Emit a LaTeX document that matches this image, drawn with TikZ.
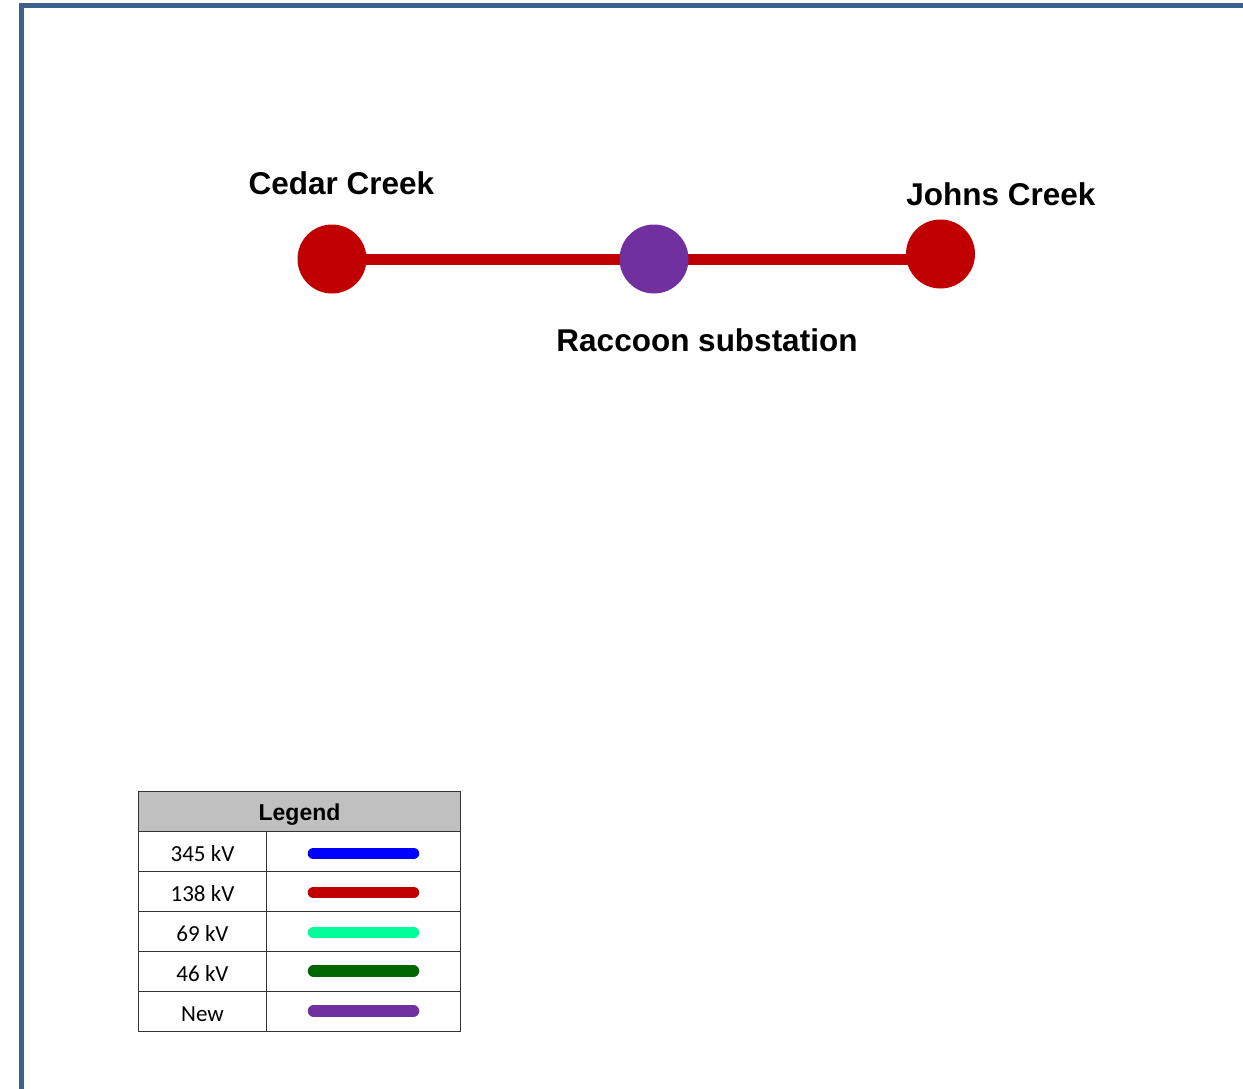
\documentclass[tikz,border=0pt]{standalone}
\usepackage{fontspec}
\setmainfont{Liberation Sans}
\newfontfamily\legendfont{Carlito}
\usepackage{xcolor}
\usepackage{tikz}
\usetikzlibrary{positioning,calc,backgrounds}

\definecolor{frameBlue}{HTML}{3C5F8E}
\definecolor{kvRed}{HTML}{C00000}
\definecolor{kvBlue}{HTML}{0000FF}
\definecolor{kvAqua}{HTML}{00FF99}
\definecolor{kvGreen}{HTML}{006600}
\definecolor{newPurple}{HTML}{7030A0}
\definecolor{legendGray}{HTML}{C0C0C0}

\tikzset{
  subst/.style={circle,minimum size=69pt,inner sep=0pt},
  sublabel/.style={anchor=base,font=\fontsize{31.5}{36}\selectfont\bfseries},
  legendrow/.style={font=\legendfont\fontsize{23}{26}\selectfont},
  legendline/.style={line width=11.5pt,line cap=round}
}

\begin{document}
\begin{tikzpicture}[x=1pt,y=-1pt]
\useasboundingbox (0,0) rectangle (1243,1089);
% page frame, only left and top edges show
\draw[frameBlue,line width=5pt] (21,1100) -- (21,6) -- (1260,6);

% substations
\node[subst,fill=kvRed] (cedar) at (332,259) {};
\node[subst,fill=newPurple] (raccoon) at (654,259) {};
\node[subst,fill=kvRed] (johns) at (940.5,254) {};
\begin{scope}[on background layer]
\draw[kvRed,line width=11pt] (cedar.center) -- (raccoon.center) -- (raccoon -| johns);
\end{scope}
\node[sublabel] (cedarlbl) at (341.5,195) {Cedar Creek};
\node[sublabel] (johnslbl) at (1001,205) {Johns Creek};
\node[sublabel] (raccoonlbl) at (707,351) {Raccoon substation};

% legend table
\filldraw[fill=legendGray,draw=black!80,line width=1.5pt] (138.5,791.5) rectangle (460.5,831.5);
\node[anchor=base,font=\fontsize{23}{26}\selectfont\bfseries] (legendhead) at (299.5,820) {Legend};
\draw[black!80,line width=1.5pt] (138.5,831.5) rectangle (460.5,1031.5);
\draw[black!80,line width=1.5pt] (266.5,831.5) -- (266.5,1031.5);
\draw[black!80,line width=1.5pt] (138.5,871.5) -- (460.5,871.5);
\draw[black!80,line width=1.5pt] (138.5,911.5) -- (460.5,911.5);
\draw[black!80,line width=1.5pt] (138.5,951.5) -- (460.5,951.5);
\draw[black!80,line width=1.5pt] (138.5,991.5) -- (460.5,991.5);
\node[legendrow,anchor=base] (kv345) at (202.5,861) {345 kV};
\draw[kvBlue,legendline] (313.5,853.5) -- (413.5,853.5);
\node[legendrow,anchor=base] (kv138) at (202.5,901) {138 kV};
\draw[kvRed,legendline] (313.5,892.5) -- (413.5,892.5);
\node[legendrow,anchor=base] (kv69) at (202.5,941) {69 kV};
\draw[kvAqua,legendline] (313.5,932.5) -- (413.5,932.5);
\node[legendrow,anchor=base] (kv46) at (202.5,981) {46 kV};
\draw[kvGreen,legendline] (313.5,971) -- (413.5,971);
\node[legendrow,anchor=base] (kvnew) at (202.5,1021) {New};
\draw[newPurple,legendline] (313.5,1011) -- (413.5,1011);
\end{tikzpicture}
\end{document}
